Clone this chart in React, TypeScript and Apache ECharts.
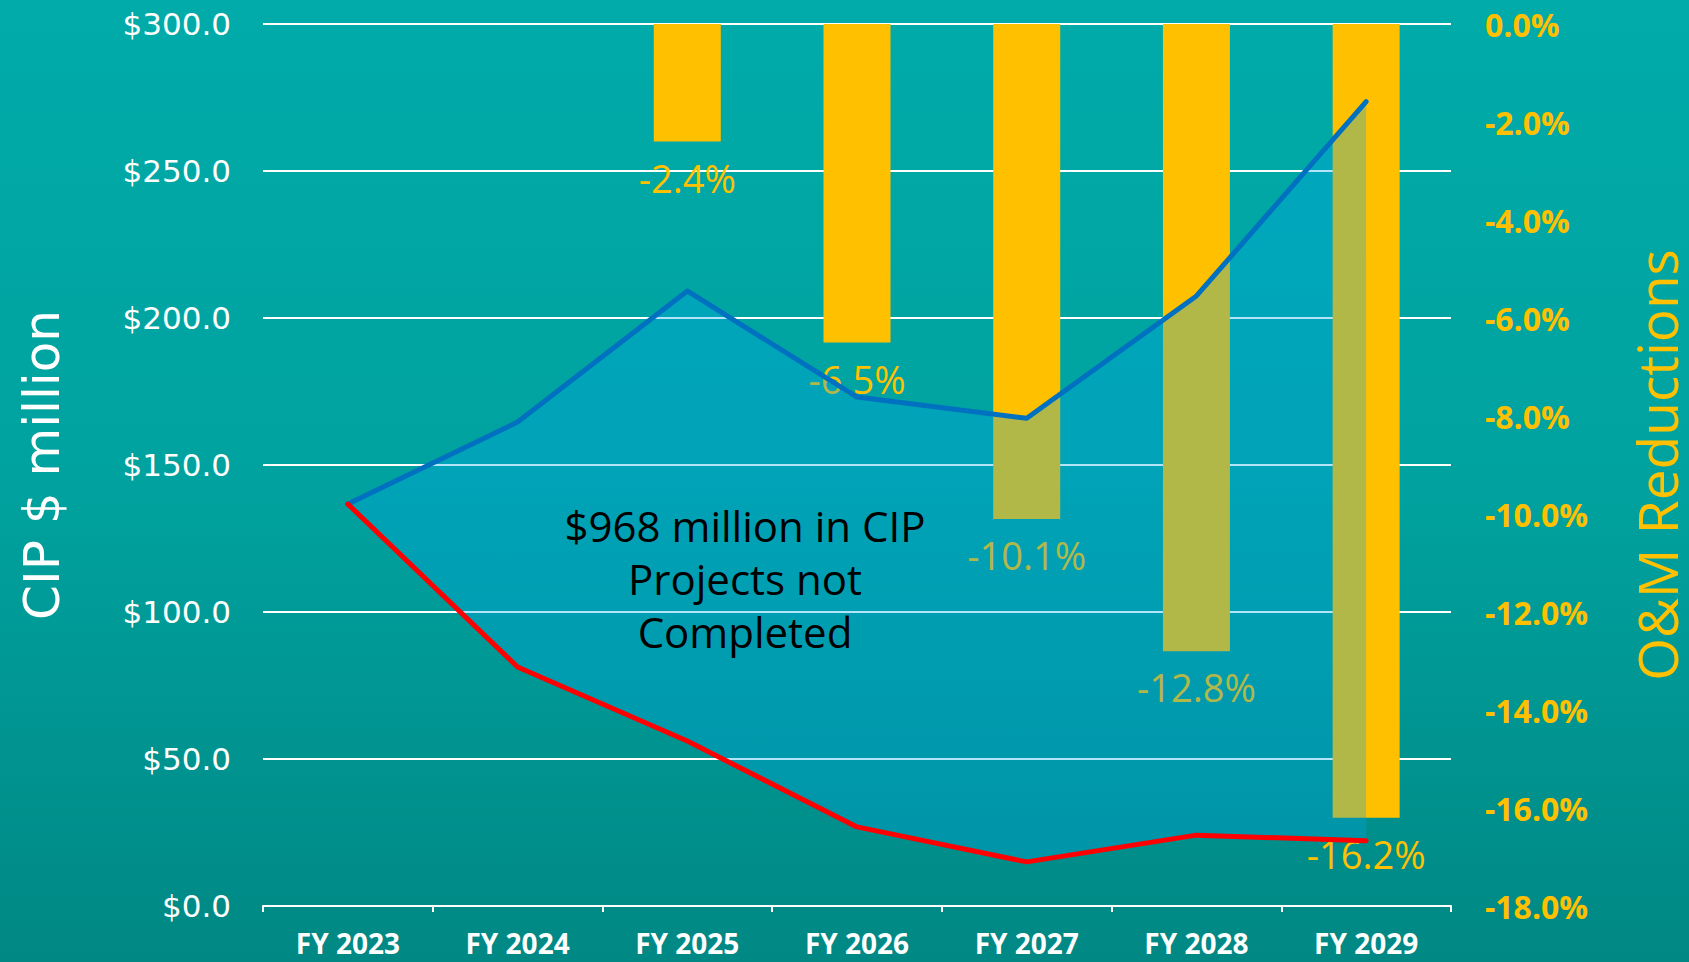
import React, { useEffect, useRef } from "react";
import * as echarts from "echarts";

const categories = ["FY 2023", "FY 2024", "FY 2025", "FY 2026", "FY 2027", "FY 2028", "FY 2029"];
// CIP $ million, upper (blue) line
const cipPlanned = [136.7, 164.6, 209.2, 173.1, 165.9, 207.5, 273.6];
// CIP $ million, lower (red) line
const cipCompleted = [136.7, 81.3, 56.1, 26.9, 15.0, 24.1, 22.2];
// O&M reductions, %
const omReductions: (number | null)[] = [null, null, -2.4, -6.5, -10.1, -12.8, -16.2];
const leftTicks = { min: 0, max: 300, interval: 50 };
const rightTicks = { min: -18, max: 0, interval: 2 };
const annotation = "$968 million in CIP\nProjects not\nCompleted";

export default function App() {
  const ref = useRef<HTMLDivElement>(null);
  useEffect(() => {
    if (!ref.current) return;
    const chart = echarts.init(ref.current, undefined, { renderer: "svg" });
    const gap = cipPlanned.map((v, i) => +(v - cipCompleted[i]).toFixed(1));
    chart.setOption({
      animation: false,
      backgroundColor: "transparent",
      grid: {
        left: 263,
        right: 238,
        top: 24,
        bottom: 56,
        containLabel: false,
        outerBoundsMode: "none",
      },
      xAxis: {
        type: "category",
        data: categories,
        boundaryGap: true,
        axisLine: { onZero: false, lineStyle: { color: "#ffffff", width: 2 } },
        axisTick: { show: true, length: 6, lineStyle: { color: "#ffffff", width: 2 } },
        axisLabel: {
          color: "#ffffff",
          fontFamily: "Open Sans",
          fontWeight: "bold",
          fontSize: 28,
          margin: 23,
        },
      },
      yAxis: [
        {
          type: "value",
          min: leftTicks.min,
          max: leftTicks.max,
          interval: leftTicks.interval,
          name: "CIP $ million",
          nameLocation: "middle",
          nameRotate: 90,
          nameGap: 196,
          nameTextStyle: { color: "#ffffff", fontFamily: "DejaVu Sans", fontSize: 50 },
          axisLine: { show: false },
          axisTick: { show: false },
          axisLabel: {
            color: "#ffffff",
            fontFamily: "DejaVu Sans",
            fontSize: 31,
            margin: 32,
            formatter: (v: number) => "$" + v.toFixed(1),
          },
          splitLine: { show: true, lineStyle: { color: "#ffffff", width: 2 } },
        },
        {
          type: "value",
          min: rightTicks.min,
          max: rightTicks.max,
          interval: rightTicks.interval,
          position: "right",
          name: "O&M Reductions",
          nameLocation: "middle",
          nameRotate: 90,
          nameGap: 178,
          nameTextStyle: { color: "#FFC000", fontFamily: "Open Sans", fontSize: 55 },
          axisLine: { show: false },
          axisTick: { show: false },
          axisLabel: {
            color: "#FFC000",
            fontFamily: "Open Sans",
            fontWeight: "bold",
            fontSize: 32,
            margin: 34,
            formatter: (v: number) => v.toFixed(1) + "%",
          },
          splitLine: { show: false },
        },
      ],
      series: [
        {
          type: "bar",
          name: "O&M Reductions",
          yAxisIndex: 1,
          data: omReductions,
          barWidth: 67,
          z: 1,
          itemStyle: { color: "#FFC000" },
          label: {
            show: true,
            position: "bottom",
            distance: 17,
            color: "#FFC000",
            fontFamily: "Open Sans",
            fontSize: 38,
            formatter: (p: any) => p.value.toFixed(1) + "%",
          },
        },
        {
          type: "line",
          name: "Completed",
          data: cipCompleted,
          stack: "cip",
          symbol: "none",
          z: 4,
          lineStyle: { color: "#FF0000", width: 5, cap: "round", join: "round" },
        },
        {
          type: "line",
          name: "Planned",
          data: gap,
          stack: "cip",
          symbol: "none",
          z: 3,
          lineStyle: { color: "#0070C0", width: 5, cap: "round", join: "round" },
          areaStyle: { color: "rgba(0,165,240,0.3)", opacity: 1 },
        },
      ],
      graphic: [
        {
          type: "text",
          x: 745,
          y: 578,
          z: 10,
          style: {
            text: annotation,
            fill: "#000000",
            font: "42px 'Open Sans'",
            fontFamily: "Open Sans",
            fontSize: 42,
            lineHeight: 53,
            textAlign: "center",
            textVerticalAlign: "middle",
            verticalAlign: "middle",
          },
        },
      ],
    });
    return () => chart.dispose();
  }, []);
  return (
    <div
      ref={ref}
      style={{
        position: "fixed",
        left: 0,
        top: 0,
        width: 1689,
        height: 962,
        background: "linear-gradient(to bottom, #00ABA9 0%, #00A29F 50%, #008884 100%)",
      }}
    />
  );
}
